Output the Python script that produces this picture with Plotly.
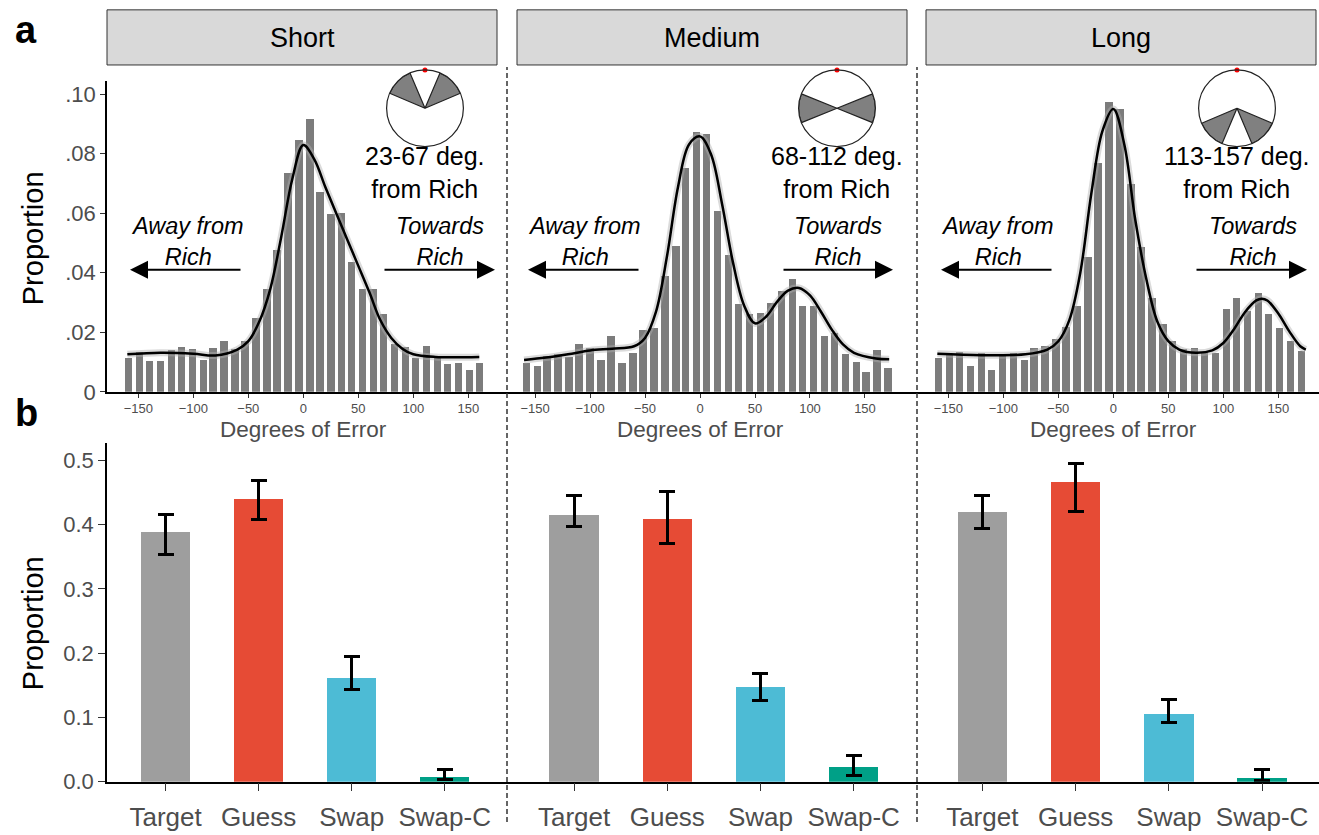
import plotly.graph_objects as go

W, H = 1319, 835
def px(x): return x / W
def py(y): return 1 - y / H

# ---------------- DATA ----------------
panels = ["Short", "Medium", "Long"]
range_txt = ["23-67 deg.<br>from Rich", "68-112 deg.<br>from Rich", "113-157 deg.<br>from Rich"]

short_x = [-159, -149, -140, -130, -120, -111, -101, -91, -82, -72, -62, -53, -43, -33, -24, -14, -4,
           6, 15, 25, 35, 44, 54, 64, 73, 83, 93, 102, 112, 122, 131, 141, 151, 160]
short_y = [0.0114, 0.0133, 0.0105, 0.0105, 0.0141, 0.0152, 0.0144, 0.0108, 0.0149, 0.0171, 0.0145,
           0.0170, 0.0248, 0.0345, 0.0477, 0.0736, 0.0846, 0.0918, 0.0672, 0.0598, 0.0600, 0.0438,
           0.0345, 0.0347, 0.0262, 0.0163, 0.0152, 0.0116, 0.0155, 0.0116, 0.0094, 0.0097, 0.0074, 0.0097]

medium_x = [-158, -148, -139, -129, -119, -110, -100, -90, -81, -71, -61, -52, -42, -32, -22, -13, -3,
            6, 16, 26, 35, 45, 55, 64, 74, 84, 93, 103, 113, 122, 132, 142, 151, 161, 171]
medium_y = [0.0097, 0.0089, 0.0121, 0.0127, 0.0119, 0.0163, 0.0147, 0.0108, 0.0187, 0.0097, 0.0130,
            0.0210, 0.0215, 0.0389, 0.0490, 0.0753, 0.0874, 0.0868, 0.0609, 0.0461, 0.0295, 0.0262,
            0.0266, 0.0299, 0.0339, 0.0380, 0.0290, 0.0288, 0.0187, 0.0200, 0.0127, 0.0102, 0.0069,
            0.0143, 0.0080]

long_x = [-159, -149, -140, -130, -120, -111, -101, -91, -81, -72, -62, -52, -43, -33, -23, -14, -4,
          6, 16, 25, 35, 45, 54, 64, 74, 83, 93, 103, 112, 122, 132, 141, 151, 161, 171]
long_y = [0.0113, 0.0127, 0.0133, 0.0088, 0.0130, 0.0074, 0.0125, 0.0130, 0.0108, 0.0149, 0.0155,
          0.0180, 0.0220, 0.0288, 0.0455, 0.0769, 0.0975, 0.0950, 0.0699, 0.0487, 0.0315, 0.0230,
          0.0173, 0.0145, 0.0148, 0.0134, 0.0131, 0.0278, 0.0315, 0.0274, 0.0333, 0.0261, 0.0214,
          0.0173, 0.0139]

# fitted model curves
short_cx = [-160, -130, -100, -80, -60, -50, -40, -30, -20, -10, 0, 10, 20, 30, 40, 50, 60, 70, 80, 90, 100, 120, 160]
short_cy = [0.0126, 0.0131, 0.0128, 0.0122, 0.0142, 0.0170, 0.0236, 0.0346, 0.0522, 0.0715, 0.0829,
            0.0781, 0.0688, 0.0599, 0.0511, 0.0423, 0.0335, 0.0241, 0.0181, 0.0145, 0.0126, 0.0117, 0.0117]
medium_cx = [-160, -140, -120, -100, -80, -60, -50, -40, -30, -20, -10, 0, 10, 20, 30, 40, 50, 60, 70,
             80, 90, 100, 110, 120, 130, 140, 160, 172]
medium_cy = [0.0107, 0.0115, 0.0126, 0.0139, 0.0145, 0.0153, 0.0181, 0.0269, 0.0456, 0.0688, 0.0831,
             0.0858, 0.0798, 0.0632, 0.0434, 0.0291, 0.0230, 0.0252, 0.0302, 0.0340, 0.0349, 0.0324,
             0.0269, 0.0208, 0.0159, 0.0131, 0.0112, 0.0109]
long_cx = [-160, -120, -80, -60, -50, -40, -30, -20, -10, 0, 10, 20, 30, 40, 50, 60, 75, 90, 100, 110,
           120, 130, 135, 140, 150, 160, 170, 175]
long_cy = [0.0128, 0.0123, 0.0126, 0.0142, 0.0170, 0.0241, 0.0401, 0.0666, 0.0875, 0.0950, 0.0831,
           0.0577, 0.0379, 0.0236, 0.0170, 0.0142, 0.0131, 0.0139, 0.0164, 0.0212, 0.0269, 0.0307,
           0.0313, 0.0307, 0.0263, 0.0203, 0.0153, 0.0142]

# wedge centres (deg from Rich) for the insets
wedge_theta = [[45, 315], [90, 270], [135, 225]]
wedge_width = 44

# mixture model proportions
categories = ["Target", "Guess", "Swap", "Swap-C"]
short_p = [0.388, 0.440, 0.161, 0.008]
short_hi = [0.415, 0.468, 0.195, 0.019]
short_lo = [0.353, 0.408, 0.143, 0.004]
medium_p = [0.415, 0.409, 0.147, 0.023]
medium_hi = [0.446, 0.452, 0.169, 0.041]
medium_lo = [0.397, 0.371, 0.126, 0.009]
long_p = [0.420, 0.466, 0.106, 0.006]
long_hi = [0.445, 0.495, 0.128, 0.019]
long_lo = [0.394, 0.420, 0.092, 0.002]
bar_colors = ["#9e9e9e", "#e64b35", "#4dbbd5", "#00a087"]

hist_x = [short_x, medium_x, long_x]
hist_y = [short_y, medium_y, long_y]
curve_x = [short_cx, medium_cx, long_cx]
curve_y = [short_cy, medium_cy, long_cy]
bp = [short_p, medium_p, long_p]
bhi = [short_hi, medium_hi, long_hi]
blo = [short_lo, medium_lo, long_lo]

# ---------------- LAYOUT GEOMETRY ----------------
FONT = "Liberation Sans, Arial, Helvetica, sans-serif"
GRAY = "#4d4d4d"
x_dom_px = [(107, 507), (507, 917), (917, 1319)]
top_xrange = [[-178.5, 185.2], [-175.5, 197.3], [-178.5, 187.0]]
bot_xrange = [[-0.63, 3.67], [-0.72, 3.68], [-0.70, 3.61]]
inset_cx = [425, 837, 1237]
inset_cy = 110
inset_r = 39
away_tip = [130, 528, 941]
away_tail = [242, 640, 1053]
tow_tail = [383, 782, 1195]
tow_tip = [495, 893, 1307]
away_txt_x = [187, 584, 998]
tow_txt_x = [440, 838, 1253]

fig = go.Figure()
layout = dict(
    width=W, height=H, margin=dict(l=0, r=0, t=0, b=0),
    paper_bgcolor="white", plot_bgcolor="white", showlegend=False,
    font=dict(family=FONT, color="black"),
    bargap=0,
)
annotations = []
shapes = []

def note(x, y, text, size, color="black", xref="paper", **kw):
    d = dict(x=x, y=y, xref=xref, yref="paper", text=text, showarrow=False,
             xanchor="center", yanchor="middle", align="center",
             font=dict(size=size, color=color, family=FONT))
    d.update(kw)
    annotations.append(d)

for i in range(3):
    tx = "x" if i == 0 else f"x{i+1}"
    ty = "y" if i == 0 else f"y{i+1}"
    bx = f"x{i+4}"
    by = f"y{i+4}"
    # histogram
    fig.add_trace(go.Bar(x=hist_x[i], y=hist_y[i], width=6.7, marker=dict(color="#7c7c7c", line=dict(width=0)),
                         xaxis=tx, yaxis=ty))
    fig.add_trace(go.Scatter(x=curve_x[i], y=curve_y[i], mode="lines",
                             line=dict(color="rgba(175,175,175,0.45)", width=7, shape="spline", smoothing=1.0),
                             xaxis=tx, yaxis=ty))
    fig.add_trace(go.Scatter(x=curve_x[i], y=curve_y[i], mode="lines",
                             line=dict(color="black", width=2.5, shape="spline", smoothing=1.0),
                             xaxis=tx, yaxis=ty))
    # bottom bars
    err_p = [h - p for h, p in zip(bhi[i], bp[i])]
    err_m = [p - l for p, l in zip(bp[i], blo[i])]
    fig.add_trace(go.Bar(x=categories, y=bp[i], width=0.53, marker=dict(color=bar_colors, line=dict(width=0)),
                         error_y=dict(type="data", array=err_p, arrayminus=err_m, color="black",
                                      thickness=3, width=8),
                         xaxis=bx, yaxis=by))
    d = [px(x_dom_px[i][0]), px(x_dom_px[i][1])]
    # top axes
    layout["xaxis" if i == 0 else f"xaxis{i+1}"] = dict(
        domain=d, range=top_xrange[i], anchor=ty, showline=True, linecolor="black", linewidth=1.5,
        tickvals=[-150, -100, -50, 0, 50, 100, 150], ticks="outside", ticklen=4, tickcolor="#333",
        tickfont=dict(size=13, color=GRAY), showgrid=False, zeroline=False)
    ydict = dict(domain=[py(398), py(82)], range=[0, 0.1045], anchor=tx, showgrid=False, zeroline=False)
    if i == 0:
        ydict.update(showline=True, linecolor="black", linewidth=1.5, ticks="outside", ticklen=5,
                     tickcolor="#333", tickvals=[0, 0.02, 0.04, 0.06, 0.08, 0.10],
                     ticktext=["0", ".02", ".04", ".06", ".08", ".10"], tickfont=dict(size=22, color=GRAY))
    else:
        ydict.update(showline=False, showticklabels=False, ticks="")
    layout["yaxis" if i == 0 else f"yaxis{i+1}"] = ydict
    # bottom axes
    layout[f"xaxis{i+4}"] = dict(
        domain=d, range=bot_xrange[i], anchor=by, type="category", showline=True, linecolor="black",
        linewidth=1.5, ticks="outside", ticklen=8, tickcolor="#333", tickfont=dict(size=26, color=GRAY),
        ticklabelstandoff=3, showgrid=False, zeroline=False)
    bydict = dict(domain=[py(794), py(450)], range=[0, 0.527], anchor=bx, showgrid=False, zeroline=False)
    if i == 0:
        bydict.update(showline=True, linecolor="black", linewidth=1.5, ticks="outside", ticklen=7,
                      tickcolor="#333", tickvals=[0, 0.1, 0.2, 0.3, 0.4, 0.5],
                      ticktext=["0.0", "0.1", "0.2", "0.3", "0.4", "0.5"], tickfont=dict(size=22, color=GRAY))
    else:
        bydict.update(showline=False, showticklabels=False, ticks="")
    layout[f"yaxis{i+4}"] = bydict

    # inset polar
    pname = "polar" if i == 0 else f"polar{i+1}"
    layout[pname] = dict(
        domain=dict(x=[px(inset_cx[i] - inset_r), px(inset_cx[i] + inset_r)],
                    y=[py(inset_cy + inset_r), py(inset_cy - inset_r)]),
        bgcolor="white", hole=0,
        radialaxis=dict(visible=False, range=[0, 1]),
        angularaxis=dict(rotation=90, direction="clockwise", showticklabels=False, ticks="",
                         showgrid=False, showline=True, linecolor="#222", linewidth=1.2))
    fig.add_trace(go.Barpolar(r=[1, 1], theta=wedge_theta[i], width=[wedge_width, wedge_width],
                              marker=dict(color="#808080", line=dict(color="#222", width=1.2)),
                              subplot=pname))
    fig.add_trace(go.Scatterpolar(r=[1], theta=[0], mode="markers", marker=dict(color="red", size=5),
                                  subplot=pname, cliponaxis=False))

    # inset label
    note(px(inset_cx[i]), py(175), range_txt[i], 25)
    # direction texts & arrows
    note(px(away_txt_x[i]), py(245), "<i>Away from<br>Rich</i>", 23.5)
    note(px(tow_txt_x[i]), py(245), "<i>Towards<br>Rich</i>", 23.5)
    annotations.append(dict(x=px(away_tip[i]), y=py(274), xref="paper", yref="paper", text="",
                            showarrow=True, ax=away_tail[i] - away_tip[i], ay=0, arrowhead=2,
                            arrowsize=1.8, arrowwidth=2, arrowcolor="black", standoff=0))
    annotations.append(dict(x=px(tow_tip[i]), y=py(274), xref="paper", yref="paper", text="",
                            showarrow=True, ax=tow_tail[i] - tow_tip[i], ay=0, arrowhead=2,
                            arrowsize=1.8, arrowwidth=2, arrowcolor="black", standoff=0))
    # Degrees of Error
    note(0, py(436), "Degrees of Error", 22.5, color=GRAY, xref=tx)
    # strips
    strip = [(107, 497), (517, 907), (926, 1316)][i]
    shapes.append(dict(type="rect", xref="paper", yref="paper", x0=px(strip[0]), x1=px(strip[1]),
                       y0=py(66), y1=py(10), fillcolor="#d9d9d9", line=dict(color="#333", width=1)))
    note(px((strip[0] + strip[1]) / 2), py(39), panels[i], 27)

# separators
for xs in (507, 917):
    shapes.append(dict(type="line", xref="paper", yref="paper", x0=px(xs), x1=px(xs), y0=py(835), y1=py(68),
                       line=dict(color="#333", width=1.5, dash="5px,3px")))

# y titles and panel letters
note(px(33), py(242), "Proportion", 29, textangle=-90)
note(px(33), py(633), "Proportion", 29, textangle=-90)
note(px(26), py(30), "<b>a</b>", 38)
note(px(26), py(420), "<b>b</b>", 38)

layout["annotations"] = annotations
layout["shapes"] = shapes
fig.update_layout(**layout)
fig.write_html("out.html")
